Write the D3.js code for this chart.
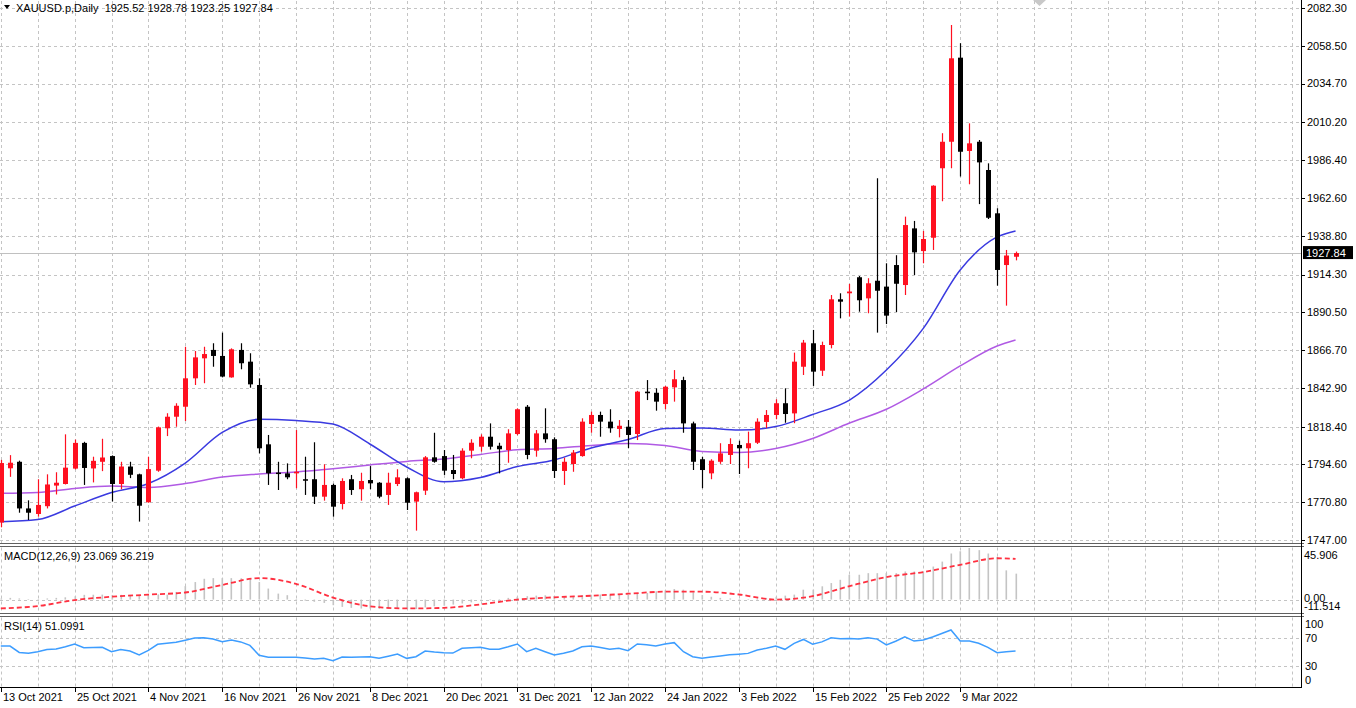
<!DOCTYPE html>
<html>
<head>
<meta charset="utf-8">
<script src="https://cdn.jsdelivr.net/npm/d3@7"></script>
<style>
  body { margin: 0; background: #fff; }
  svg { display: block; }
  text { font-family: "Liberation Sans", Arial, sans-serif; font-size: 11px; fill: #000; }
</style>
</head>
<body>
<svg id="chart" width="1356" height="708"></svg>
<script>
// daily bars, XAUUSD.p, 13 Oct 2021 .. 17 Mar 2022
const opens  = [1758,1792.2,1796.3,1766.9,1763.4,1768.3,1781.3,1782.3,1792,1808.2,1792.1,1796.3,1799.9,1782.3,1793.3,1788.4,1770.8,1790.7,1817.4,1824.7,1831,1848.9,1861.5,1866.8,1863,1849.5,1866.8,1859.4,1844.7,1807.3,1789.5,1789,1789,1785.3,1785.3,1774.3,1781.7,1769.7,1785.3,1779,1784.8,1783.1,1775.4,1782.3,1785.9,1771.2,1778.1,1799.1,1799.9,1791.1,1785.9,1803.3,1805.8,1812.1,1806.4,1803.7,1813.8,1831,1803.3,1814.2,1810.5,1790.5,1794.9,1799.9,1820.1,1825.8,1821.6,1817,1818.4,1813.8,1840.5,1839.8,1832.7,1843.2,1847.8,1820.5,1797.9,1789,1796.3,1800.6,1806.9,1804.8,1808.3,1821.4,1825.8,1833.2,1826.8,1856.2,1871,1853.7,1869.9,1898.7,1902.5,1912.6,1899.3,1910.4,1906.7,1920.3,1907.7,1943.4,1929.1,1937.5,1981.3,1998,2051,1992.2,1998,1980.2,1952.9,1920.3,1925.52];
const highs  = [1797.5,1800.5,1797,1772,1785.3,1788.4,1789.7,1813.6,1810.3,1808.9,1799.5,1810.8,1800.3,1796.3,1796.3,1788.8,1799.5,1818.5,1826.9,1833.2,1868.8,1866.1,1868.8,1871,1877.7,1867.8,1871,1864.7,1848.9,1813.2,1796.3,1795.3,1816.3,1799.5,1808.6,1794.7,1782.5,1785.9,1788,1789.4,1793.6,1783.5,1789.4,1791.6,1786.5,1777.5,1799.9,1814.6,1803.7,1800.6,1804.8,1810.5,1813.6,1820.5,1808.3,1816.8,1830,1832.1,1816.3,1830,1811.7,1798.9,1803.7,1823.7,1827.9,1827.9,1829.4,1822.6,1822.6,1841,1847.8,1842.6,1844.1,1854.1,1849.9,1821.6,1799.5,1797.9,1808,1811.1,1809.6,1815.3,1823.7,1828.9,1835.7,1842.6,1865.1,1873.1,1879.4,1872,1901.4,1902.5,1908.4,1913.4,1912,1975,1921.4,1926.5,1950.8,1948.1,1941.8,1970.6,2003.4,2071.6,2060.1,2009.6,1999.1,1984.4,1956.1,1929.8,1928.78];
const lows   = [1755,1786.8,1764.2,1759.6,1761.7,1766.9,1775.7,1782,1791.5,1781.7,1783.3,1790.4,1771.3,1779,1786,1758.6,1770.5,1790,1812.5,1818.4,1822,1844.7,1845.8,1856.2,1849.5,1849.3,1854.6,1843,1801.6,1781.7,1778.5,1785.3,1779.6,1775.4,1769.7,1771.8,1761.7,1766.3,1775.4,1771.8,1779,1773.3,1769.1,1781,1765.9,1752.9,1775.4,1795.7,1788,1785.3,1785.3,1798.5,1802.7,1804,1789,1795.7,1813,1797.9,1799.5,1808.3,1786.1,1781.7,1790,1799.5,1814.6,1812.1,1814.6,1811.7,1804.8,1810,1835.2,1828.5,1829.4,1834.2,1814.6,1791.1,1779.6,1785.3,1795,1794.9,1788.6,1792.2,1807.5,1817.5,1823.1,1820.9,1820.6,1851,1844.1,1850.4,1867.8,1886.7,1887.8,1890.9,1889.9,1877.7,1883.1,1890.7,1901.4,1914,1921.4,1929.8,1960.5,1981.3,1976.1,1971.2,1958.7,1949.3,1907.3,1894.7,1923.25];
const closes = [1795.5,1795.7,1766.9,1764.2,1769.1,1782,1783.1,1792.6,1808.2,1792.4,1796.9,1799,1782.3,1793.3,1788.1,1768.6,1791.7,1818,1824.7,1831.6,1848.9,1862.1,1864.2,1863,1850,1867.2,1858.4,1845.1,1804.8,1789,1788.8,1786.5,1790,1784.4,1774.3,1781.7,1768,1784.2,1778.5,1784.2,1782.7,1774.3,1783.1,1786.5,1770.5,1777.1,1799.1,1796.3,1790.7,1788.6,1803.3,1808.3,1812.1,1805.8,1804.2,1814.2,1829.4,1800.6,1814.2,1810.5,1790.5,1796.3,1802.1,1821.6,1825.8,1821.6,1817.4,1819,1813.2,1840.5,1839.5,1834.2,1843.6,1848.3,1820.5,1796.3,1791.1,1797,1801.6,1807.5,1804.8,1808,1821.6,1825.8,1833.2,1826.4,1859.4,1871.4,1853.1,1869.9,1898.7,1897.2,1903.6,1898.1,1908.8,1904.1,1888.4,1908.5,1945.5,1928.3,1936.7,1970.3,1998,2050.6,1991.7,1997,1985,1950.1,1917.2,1926.3,1927.84];

// moving averages and MACD signal, read every 4 bars
const lineIdx  = [0,4,8,12,16,20,24,28,32,36,40,44,48,52,56,60,64,68,72,76,80,84,88,92,96,100,104,108,110];
const maFast   = [1758.5,1759.9,1768.4,1776.9,1782.6,1795.5,1814.8,1823.1,1822.3,1820.1,1807.5,1793,1783.7,1786.4,1793.3,1797.4,1805,1810.3,1817.3,1817.6,1816.3,1818.5,1826.1,1835.2,1854.1,1880.4,1917.2,1938,1941.8];
const maSlow   = [1776.4,1776.9,1779.5,1781,1780.1,1782.6,1786.7,1788.6,1789.9,1791.9,1794.3,1796.5,1798.1,1800.9,1803.9,1804.7,1806.6,1807.8,1806.6,1802.8,1802.2,1804.7,1811,1820.7,1829.4,1842.2,1856.7,1869.3,1873.1];
const macdSignal = [-7.9,-5.8,-0.5,2.5,4.4,6.3,13,19.1,14,1.8,-6,-7.9,-7.4,-4.3,0,2,3.4,5.2,7,7,4.5,0,3,12,20,24.5,30.9,36.8,36.219];

const macdMain = [1,1.5,1,0.5,0.5,1,1.5,2,3,
  4.2,4.3,4.4,4,4.2,3.8,3.6,4,4.6,4.4,6.8,
  12,15.6,18.5,19.1,19.1,19.1,19,18.5,15.6,9.8,5.3,3.9,0.5,
  -1,-2,-3,-5,-6.5,-7.4,-8,-8,-8.2,-8,-7.8,-8.2,-8.5,
  -7,-6,-5.5,-4.5,-3.5,-2.5,-1.5,-0.5,0.5,1.5,2.5,3,
  3.5,3.8,3.2,3,3.2,4,4.3,4.5,4.2,4.6,4.3,5.5,
  5.9,7.4,8.2,9.4,8.8,6.5,4,2.5,1.5,1,0.5,0.5,
  1,1.5,2.5,3.5,4.4,8.8,8.8,11.8,14.7,17.6,22.1,22.1,
  23.5,23.5,23.5,23.5,25,25,25,29.4,33.8,41,43,45.906,
  44,41,38,26,23.069];

const rsi = [58,58,49,47.7,50,53,54,57,61,55.7,56,56.2,50,53,51,45.3,52,60.6,62,63.5,66.5,69.5,70,68,64.3,66.7,64,59,45,42,42,42,42,41,39.6,40.5,37.1,42.5,42,42.5,42.9,40.5,43.5,46.7,40.5,42.9,51,49.5,48.6,48,54.8,55.5,56.2,53.4,53.4,57,61,50,54.8,50,45.3,47.7,51,57,58,56,53.4,54.8,51.4,61,60,58.1,61,62.9,50,42.9,40.5,42.5,44,45.5,46.5,47.6,52.4,55,58.1,53.4,62,67.5,60.6,64,70,68.5,69,68.1,70,68,59.6,65,71.4,65.2,66.7,71,76,81,65.2,65.2,62,56.2,48.6,50,51.1];

const priceTicks = [2082.30,2058.50,2034.70,2010.20,1986.40,1962.60,1938.80,1914.30,1890.50,1866.70,1842.90,1818.40,1794.60,1770.80,1747.00];
const macdTicks = [45.906, 0, -11.514];
const rsiTicks = [100, 70, 30, 0];
const rsiLevels = [70, 30];
const dateIdx = [0,8,16,24,32,40,48,56,64,72,80,88,96,104];
const dateLabels = ["13 Oct 2021","25 Oct 2021","4 Nov 2021","16 Nov 2021","26 Nov 2021","8 Dec 2021","20 Dec 2021","31 Dec 2021","12 Jan 2022","24 Jan 2022","3 Feb 2022","15 Feb 2022","25 Feb 2022","9 Mar 2022"];

const lastPrice = 1927.84;
const header = "XAUUSD.p,Daily  1925.52 1928.78 1923.25 1927.84";
const macdTitle = "MACD(12,26,9) 23.069 36.219";
const rsiTitle = "RSI(14) 51.0991";

const svg = d3.select("#chart");
const axisX = 1301;

const x = d3.scaleLinear().domain([0, 110]).range([0.8, 1015.55]);
const yPrice = d3.scaleLinear().domain([1747, 2082.3]).range([540, 8]);
const yMacd = d3.scaleLinear().domain([-11.514, 45.906]).range([612.5, 548]);
const yRsi = d3.scaleLinear().domain([0, 100]).range([686.7, 616.7]);

const panels = [{top: 0, bottom: 543.5}, {top: 546.5, bottom: 613.5}, {top: 616.5, bottom: 687}];

// vertical grid every 4 bars
const gridIdx = d3.range(0, 200, 4).filter(i => x(i) < axisX - 2);
const grid = svg.append("g").attr("stroke", "#c4c4c4").attr("stroke-dasharray", "3,3");
panels.forEach(p => {
  grid.selectAll(null).data(gridIdx).enter().append("line")
    .attr("x1", i => Math.round(x(i)) + 0.5).attr("x2", i => Math.round(x(i)) + 0.5)
    .attr("y1", p.top + 1).attr("y2", p.bottom);
});
grid.selectAll(null).data(priceTicks).enter().append("line")
  .attr("x1", 0).attr("x2", axisX)
  .attr("y1", d => Math.round(yPrice(d)) + 0.5).attr("y2", d => Math.round(yPrice(d)) + 0.5);
grid.append("line").attr("x1", 0).attr("x2", axisX)
  .attr("y1", Math.round(yMacd(0)) + 0.5).attr("y2", Math.round(yMacd(0)) + 0.5);
grid.selectAll(null).data(rsiLevels).enter().append("line")
  .attr("x1", 0).attr("x2", axisX)
  .attr("y1", d => Math.round(yRsi(d)) + 0.5).attr("y2", d => Math.round(yRsi(d)) + 0.5);

// last price line
svg.append("line").attr("x1", 0).attr("x2", axisX)
  .attr("y1", Math.round(yPrice(lastPrice)) + 0.5).attr("y2", Math.round(yPrice(lastPrice)) + 0.5)
  .attr("stroke", "#c0c0c0");

// moving averages
const maLine = d3.line().x((d, k) => x(lineIdx[k])).y(d => yPrice(d)).curve(d3.curveMonotoneX);
svg.append("path").attr("d", maLine(maSlow)).attr("fill", "none").attr("stroke", "#b05ae4").attr("stroke-width", 1.5);
svg.append("path").attr("d", maLine(maFast)).attr("fill", "none").attr("stroke", "#3a3ae0").attr("stroke-width", 1.5);

// candles
const bars = d3.range(opens.length);
const up = i => closes[i] >= opens[i];
const candles = svg.append("g");
candles.selectAll("line").data(bars).enter().append("line")
  .attr("x1", i => Math.round(x(i)) + 0.5).attr("x2", i => Math.round(x(i)) + 0.5)
  .attr("y1", i => yPrice(highs[i])).attr("y2", i => yPrice(lows[i]))
  .attr("stroke", i => up(i) ? "#ff1020" : "#000").attr("stroke-width", 1.2);
candles.selectAll("rect").data(bars).enter().append("rect")
  .attr("x", i => Math.round(x(i)) - 2)
  .attr("width", 5)
  .attr("y", i => yPrice(Math.max(opens[i], closes[i])))
  .attr("height", i => Math.max(1.5, Math.abs(yPrice(opens[i]) - yPrice(closes[i]))))
  .attr("fill", i => up(i) ? "#ff1020" : "#000");

// MACD histogram and signal
svg.append("g").selectAll("rect").data(bars).enter().append("rect")
  .attr("x", i => Math.round(x(i)) - 0.5)
  .attr("width", 1.6)
  .attr("y", i => Math.min(yMacd(0), yMacd(macdMain[i])))
  .attr("height", i => Math.abs(yMacd(macdMain[i]) - yMacd(0)))
  .attr("fill", "#c4c4c4");
const sigLine = d3.line().x((d, k) => x(lineIdx[k])).y(d => yMacd(d)).curve(d3.curveMonotoneX);
svg.append("path").attr("d", sigLine(macdSignal)).attr("fill", "none")
  .attr("stroke", "#ff3040").attr("stroke-width", 1.8).attr("stroke-dasharray", "5,3");

// RSI
const rsiLine = d3.line().x((d, i) => x(i)).y(d => yRsi(d));
svg.append("path").attr("d", rsiLine(rsi)).attr("fill", "none").attr("stroke", "#3d9dff").attr("stroke-width", 1.5);

// panel frames
svg.append("rect").attr("x", axisX + 0.5).attr("y", 0).attr("width", 60).attr("height", 708).attr("fill", "#fff");
svg.append("rect").attr("x", 0).attr("y", 687).attr("width", 1356).attr("height", 21).attr("fill", "#fff");
const frames = svg.append("g").attr("stroke", "#606060").attr("fill", "none");
[543.5, 546.5, 613.5, 616.5].forEach(y => frames.append("line").attr("x1", 0).attr("x2", axisX + 3).attr("y1", y).attr("y2", y));
svg.append("line").attr("x1", 0).attr("x2", axisX).attr("y1", 687.5).attr("y2", 687.5).attr("stroke", "#000");
svg.append("line").attr("x1", axisX + 0.5).attr("x2", axisX + 0.5).attr("y1", 0).attr("y2", 688).attr("stroke", "#000");

// price axis
const pa = svg.append("g");
pa.selectAll("line").data(priceTicks).enter().append("line")
  .attr("x1", axisX).attr("x2", axisX + 4)
  .attr("y1", d => Math.round(yPrice(d)) + 0.5).attr("y2", d => Math.round(yPrice(d)) + 0.5)
  .attr("stroke", "#000");
pa.selectAll("text").data(priceTicks).enter().append("text")
  .attr("x", axisX + 6).attr("y", d => yPrice(d)).attr("dy", "0.35em")
  .text(d => d.toFixed(2));

const ly = yPrice(lastPrice);
svg.append("rect").attr("x", axisX + 2).attr("y", ly - 7).attr("width", 50).attr("height", 13).attr("fill", "#000");
svg.append("text").attr("x", axisX + 5).attr("y", ly).attr("dy", "0.35em").style("fill", "#fff").text(lastPrice.toFixed(2));

// MACD / RSI scale labels
svg.selectAll(null).data(macdTicks).enter().append("text")
  .attr("x", axisX + 3)
  .attr("y", (d, k) => k === 0 ? yMacd(d) + 7 : (k === 2 ? yMacd(d) - 6.5 : yMacd(d) - 1.5))
  .attr("dy", "0.35em")
  .text(d => d === 0 ? "0.00" : d.toFixed(3));
svg.selectAll(null).data(rsiTicks).enter().append("text")
  .attr("x", axisX + 4)
  .attr("y", d => d === 100 ? yRsi(d) + 7 : (d === 0 ? yRsi(d) - 7 : yRsi(d)))
  .attr("dy", "0.35em")
  .text(d => d);

// time axis
const ta = svg.append("g");
ta.selectAll("line").data(dateIdx).enter().append("line")
  .attr("x1", i => Math.round(x(i)) + 0.5).attr("x2", i => Math.round(x(i)) + 0.5)
  .attr("y1", 687).attr("y2", 692).attr("stroke", "#000");
ta.selectAll("text").data(dateIdx).enter().append("text")
  .attr("x", i => Math.round(x(i)) + 2).attr("y", 701)
  .text((i, k) => dateLabels[k]);

// titles
svg.append("path").attr("d", "M4,5 L10,5 L7,9 Z").attr("fill", "#000");
svg.append("text").attr("x", 16).attr("y", 12).attr("xml:space", "preserve").style("white-space", "pre").text(header);
svg.append("text").attr("x", 4).attr("y", 560).text(macdTitle);
svg.append("text").attr("x", 4).attr("y", 630).text(rsiTitle);

// shift marker
svg.append("path").attr("d", "M1033,0 L1046,0 L1039.5,6 Z").attr("fill", "#c8c8c8");
</script>
</body>
</html>
